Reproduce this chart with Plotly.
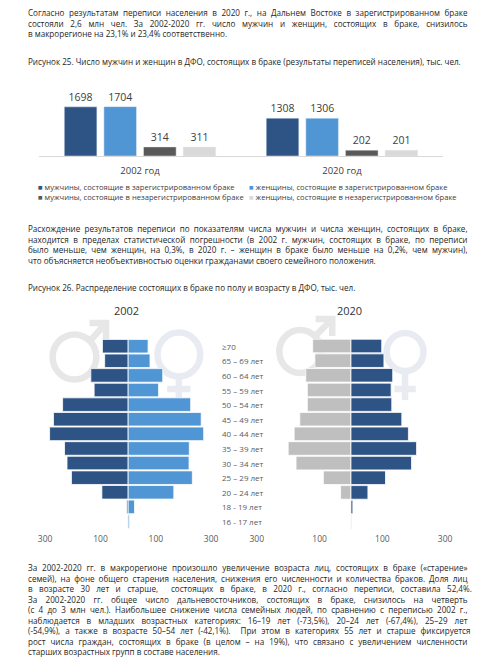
import plotly.graph_objects as go

# --- data -------------------------------------------------------------
years = ['2002 год', '2020 год']
series_names = ['мужчины, состоящие в зарегистрированном браке',
                'женщины, состоящие в зарегистрированном браке',
                'мужчины, состоящие в незарегистрированном браке',
                'женщины, состоящие в незарегистрированном браке']
men_reg = [1698, 1308]
women_reg = [1704, 1306]
men_unreg = [314, 202]
women_unreg = [311, 201]

ages = ['≥70', '65 – 69 лет', '60 – 64 лет', '55 – 59 лет', '50 – 54 лет',
        '45 – 49 лет', '40 – 44 лет', '35 – 39 лет', '30 – 34 лет',
        '25 – 29 лет', '20 – 24 лет', '18 - 19 лет', '16 - 17 лет']
men_2002 = [93, 85, 135, 123, 237, 270, 284, 230, 221, 205, 95, 5, 1]
women_2002 = [72, 79, 125, 110, 226, 264, 273, 221, 220, 232, 165, 23, 5]
men_2020 = [122, 115, 144, 139, 139, 163, 181, 200, 175, 88, 33, 1, 1]
women_2020 = [98, 105, 133, 128, 130, 162, 183, 209, 193, 110, 54, 6, 1]

pyr_ticks = [-300, -100, 100, 300]
pyr_ticktext = ['300', '100', '100', '300']

para1 = ['Согласно результатам переписи населения в 2020 г., на Дальнем Востоке в зарегистрированном браке',
         'состояли 2,6 млн чел. За 2002-2020 гг. число мужчин и женщин, состоящих в браке, снизилось',
         'в макрорегионе на 23,1% и 23,4% соответственно.']
caption1 = 'Рисунок 25. Число мужчин и женщин в ДФО, состоящих в браке (результаты переписей населения), тыс. чел.'
para2 = ['Расхождение результатов переписи по показателям числа мужчин и числа женщин, состоящих в браке,',
         'находится в пределах статистической погрешности (в 2002 г. мужчин, состоящих в браке, по переписи',
         'было меньше, чем женщин, на 0,3%, в 2020 г. – женщин в браке было меньше на 0,2%, чем мужчин),',
         'что объясняется необъективностью оценки гражданами своего семейного положения.']
caption2 = 'Рисунок 26. Распределение состоящих в браке по полу и возрасту в ДФО, тыс. чел.'
para3 = ['За 2002-2020 гг. в макрорегионе произошло увеличение возраста лиц, состоящих в браке («старение»',
         'семей), на фоне общего старения населения, снижения его численности и количества браков. Доля лиц',
         'в возрасте 30 лет и старше,  состоящих в браке, в 2020 г., согласно переписи, составила 52,4%.',
         'За 2002-2020 гг. общее число дальневосточников, состоящих в браке, снизилось на четверть',
         '(с 4 до 3 млн чел.). Наибольшее снижение числа семейных людей, по сравнению с переписью 2002 г.,',
         'наблюдается в младших возрастных категориях: 16–19 лет (-73,5%), 20–24 лет (-67,4%), 25–29 лет',
         '(-54,9%), а также в возрасте 50–54 лет (-42,1%).  При этом в категориях 55 лет и старше фиксируется',
         'рост числа граждан, состоящих в браке (в целом – на 19%), что связано с увеличением численности',
         'старших возрастных групп в составе населения.']

# --- page geometry helpers (pixels -> paper) --------------------------
W, H = 480, 659
def px(x):
    return x / W
def py(y):
    return 1 - y / H

FONT = 'Open Sans'
DARK = '#2e5486'
LIGHT = '#5096d4'
colors = [DARK, LIGHT, '#595959', '#d9d9d9']

fig = go.Figure()

# figure 25: grouped bars (placed side by side within each year)
bw, pitch = 0.1615, 0.1962
for i, (name, vals, c) in enumerate(zip(series_names, [men_reg, women_reg, men_unreg, women_unreg], colors)):
    fig.add_trace(go.Bar(x=years, y=vals, name=name, marker_color=c,
                         width=bw, offset=-0.375 + i * pitch,
                         text=vals, textposition='outside', cliponaxis=False,
                         textfont=dict(size=10.5, color='#404040', family=FONT),
                         xaxis='x', yaxis='y', showlegend=False))

# figure 26: pyramids
def pyramid(left, right, cl, cr, ax):
    for vals, c, sign in [(left, cl, -1), (right, cr, 1)]:
        fig.add_trace(go.Bar(y=ages, x=[sign * v for v in vals], orientation='h',
                             marker=dict(color=c, line=dict(color='white', width=0.8)),
                             width=0.93,
                             xaxis='x' + ax, yaxis='y' + ax, showlegend=False,
                             hoverinfo='skip'))

pyramid(men_2002, women_2002, DARK, LIGHT, '2')
pyramid(men_2020, women_2020, '#bfbfbf', DARK, '3')

ann = []
def text(x, y, s, size=8.1, color='#262626', anchor='left', yanchor='middle'):
    ann.append(dict(x=px(x), y=py(y), xref='paper', yref='paper', text=s,
                    showarrow=False, xanchor=anchor, yanchor=yanchor, align='left',
                    borderpad=0,
                    font=dict(family=FONT, size=size, color=color)))

# paragraphs are annotations 0, 2 and 4 (justified in the page script below)
text(20.5, 6.0, '<br>'.join(para1), yanchor='top')
text(20.5, 61, caption1, size=8.1)
text(20.5, 222.0, '<br>'.join(para2), yanchor='top')
text(20.5, 287, caption2, size=8.1)
text(20.5, 561.0, '<br>'.join(para3), yanchor='top')

# legend of figure 25
leg_pos = [(31, 187), (248, 187), (31, 197), (248, 197)]
for (x, y), name, c in zip(leg_pos, series_names, colors):
    text(x, y, "<span style='color:%s'>■</span> %s" % (c, name), size=7.6, color='#404040')

text(123, 311, '2002', size=11, color='#333333', anchor='center')
text(353, 311, '2020', size=11, color='#333333', anchor='center')

for a in ages:
    ann.append(dict(x=px(219), y=a, xref='paper', yref='y2', text=a, showarrow=False,
                    xanchor='left', yanchor='middle',
                    font=dict(family=FONT, size=8, color='#595959')))

# gender symbols behind the pyramids
shapes = []
def ring(cx, cy, r, col):
    shapes.append(dict(type='circle', xref='paper', yref='paper', layer='below',
                       x0=px(cx - r), x1=px(cx + r), y0=py(cy + r), y1=py(cy - r),
                       line=dict(color=col, width=6.5)))
def seg(pts, col):
    path = 'M ' + ' L '.join('%f,%f' % (px(a), py(b)) for a, b in pts)
    shapes.append(dict(type='path', xref='paper', yref='paper', layer='below',
                       path=path, line=dict(color=col, width=6.5)))

def male(cx, cy, r, ax_, ay_):
    col = '#e7e7e7'
    ring(cx, cy, r, col)
    seg([(cx + r * 0.707, cy - r * 0.707), (ax_, ay_)], col)
    seg([(ax_ - 17, ay_), (ax_, ay_), (ax_, ay_ + 17)], col)

def female(cx, cy, r, stem, cross, half):
    col = '#e8ebf1'
    ring(cx, cy, r, col)
    seg([(cx, cy + r), (cx, stem)], col)
    seg([(cx - half, cross), (cx + half, cross)], col)

male(69.5, 357, 22.5, 102, 323)
female(177, 354.5, 22, 402, 389, 12)
male(302, 351.5, 21.5, 335, 319)
female(410, 352, 19, 400, 389, 11)

pyr_x = dict(range=[-300, 300], tickvals=pyr_ticks, ticktext=pyr_ticktext,
             showgrid=False, zeroline=False, showline=False, ticks='',
             ticklabelstandoff=3,
             tickfont=dict(family=FONT, size=8.5, color='#595959'), fixedrange=True)
pyr_y = dict(domain=[py(529), py(338.7)], showticklabels=False, showgrid=False,
             zeroline=False, autorange='reversed', type='category')

fig.update_layout(
    width=W, height=H, autosize=False,
    margin=dict(l=0, r=0, t=0, b=0),
    paper_bgcolor='white', plot_bgcolor='rgba(0,0,0,0)',
    barmode='overlay',
    font=dict(family=FONT, color='#404040'),
    xaxis=dict(domain=[px(33), px(449)], showline=True, linecolor='#d9d9d9',
               ticks='', ticklabelstandoff=6,
               tickfont=dict(family=FONT, size=9.5, color='#404040')),
    yaxis=dict(domain=[py(156), py(98.1)], range=[0, 2000], visible=False),
    xaxis2=dict(domain=[px(39.3), px(210.3)], anchor='y2', **pyr_x),
    yaxis2=dict(anchor='x2', **pyr_y),
    xaxis3=dict(domain=[px(257.3), px(451.3)], anchor='y3', **pyr_x),
    yaxis3=dict(anchor='x3', **pyr_y),
    annotations=ann, shapes=shapes,
)

# page script: no body margin, and justify paragraph lines to the text width
js = """
document.body.style.margin='0';document.body.style.overflow='hidden';
var gd = document.getElementById('{plot_id}');
function justify() {
  try {
    [0, 2, 4].forEach(function(i) {
      var g = gd.querySelector('g.annotation[data-index="' + i + '"]');
      if (!g) return;
      var lines = g.querySelectorAll('tspan.line');
      for (var k = 0; k < lines.length - 1; k++) {
        var t = lines[k];
        t.style.wordSpacing = '0px';
        var len = t.getComputedTextLength();
        var gaps = t.textContent.trim().split(/\\s+/).length - 1;
        var extra = (439.5 - len) / gaps;
        if (gaps > 0 && extra > 0 && extra < 8) t.style.wordSpacing = extra + 'px';
      }
    });
  } catch (e) {}
}
justify();
if (gd.on) gd.on('plotly_afterplot', justify);
"""

fig.write_html('out.html', config={'displayModeBar': False}, post_script=js)
